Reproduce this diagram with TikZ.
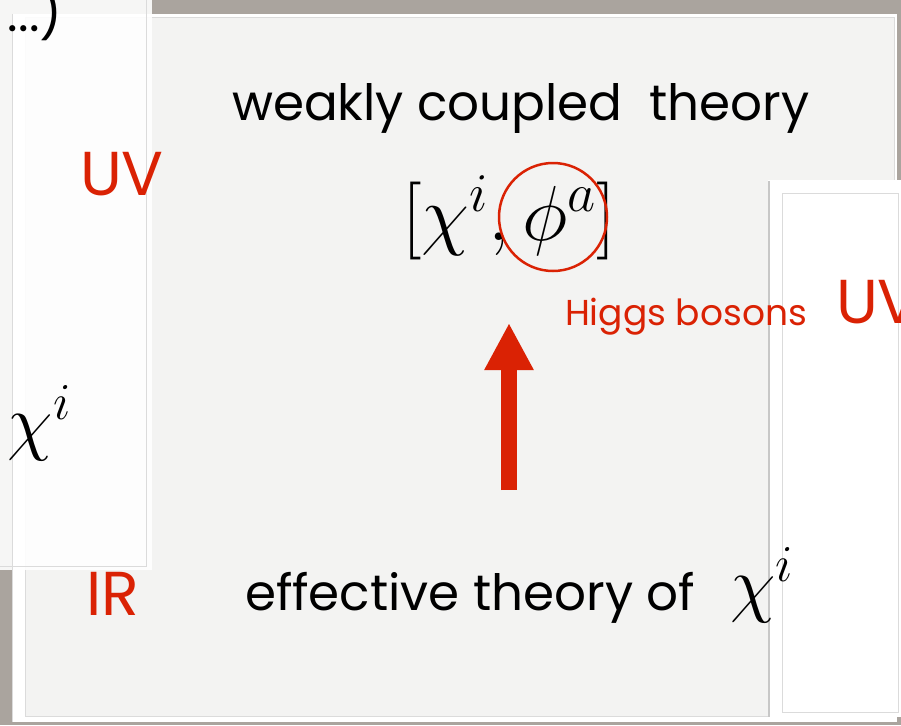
\RequirePackage{fix-cm}
\documentclass[tikz,border=0pt]{standalone}
\usepackage{fontspec}
\setmainfont{Poppins}
\usetikzlibrary{arrows.meta}
\definecolor{slidered}{RGB}{218,34,4}
\definecolor{slidebg}{RGB}{243,243,242}
\definecolor{deskgray}{RGB}{170,164,158}

\begin{document}
\begin{tikzpicture}[
    x=1pt, y=-1pt,
    every node/.append style={inner sep=0pt, outer sep=0pt},
    % text styles
    slidetext/.style={anchor=base west, font=\fontsize{50}{58}\selectfont},
    scaletag/.style={anchor=base west, text=slidered, font=\fontsize{62}{70}\selectfont},
    notetag/.style={anchor=base west, text=slidered, font=\fontsize{36}{42}\selectfont},
    fieldmath/.style={anchor=base west, font=\fontsize{74}{80}\selectfont},
    % frame styles
    paneline/.style={draw=black!14, line width=1pt},
    flowarrow/.style={-{Triangle[length=47pt, width=46pt]}, line width=16pt, slidered},
]

\useasboundingbox (0,0) rectangle (901,725);
\clip (0,0) rectangle (901,725);

% ========== background panes ==========
\fill[deskgray] (0,0) rectangle (901,725);
\fill[white] (12,14) rectangle (897,722);
\filldraw[fill=slidebg, paneline] (25,18) rectangle (894,716);
\fill[white, opacity=0.9] (0,0) rectangle (152,570);
\draw[paneline] (146,0) -- (146,566) -- (0,566);
\draw[paneline] (12,14) -- (12,722);

% right pane
\fill[white] (768,180) rectangle (901,717);
\draw[black!22, line width=2pt] (769,181) -- (769,717);
\draw[paneline] (782,193) rectangle (898,712);

% ========== left pane ==========
\node[slidetext] (dots) at (8,32) {...)};
\node[fieldmath] (chileft) at (8,446) {$\chi^i$};

% ========== UV side ==========
\node[scaletag] (uvtop) at (80,195) {UV};
\node[slidetext] (weak) at (232,120) {weakly coupled\ \ theory};
\node[fieldmath, font=\fontsize{78}{84}\selectfont] (fields) at (402,240) {$[\chi^i, \phi^a]$};
\node[draw=slidered, line width=2.5pt, circle, minimum size=108pt] (higgsring) at (553,217) {};
\node[notetag] (higgs) at (565,325) {Higgs bosons};
\node[scaletag] (uvright) at (836,323) {UV};

% ========== flow ==========
\coordinate (flowfoot) at (509,490);
\coordinate (flowtip) at (509,323);
\draw[flowarrow] (flowfoot) -- (flowtip);

% ========== IR side ==========
\node[scaletag] (ir) at (86,615) {IR};
\node[slidetext] (eff) at (245,610) {effective theory of};
\node[fieldmath] (effchi) at (730,608) {$\chi^i$};

\end{tikzpicture}
\end{document}
